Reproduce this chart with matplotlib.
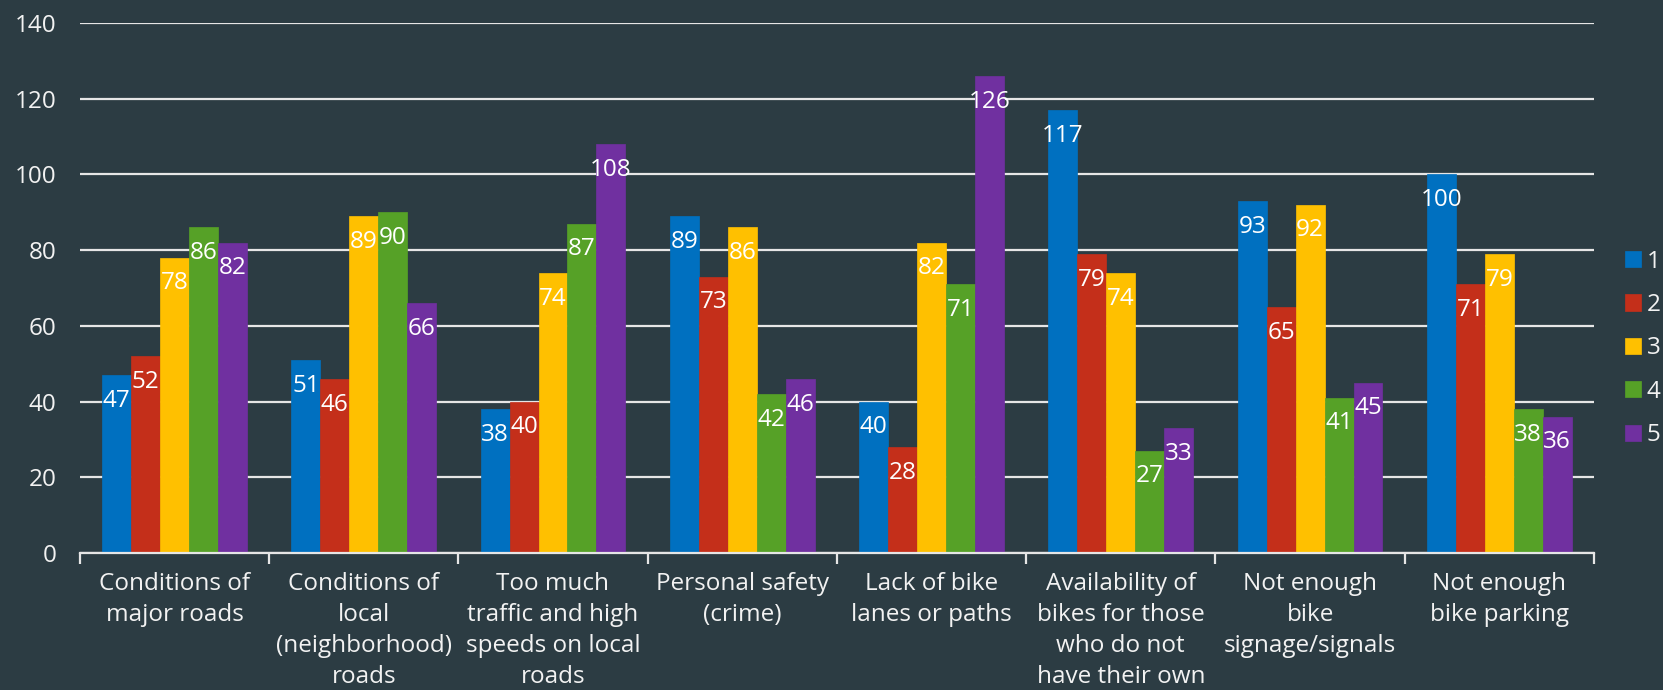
import matplotlib
matplotlib.use("Agg")
import matplotlib.pyplot as plt
import numpy as np

categories = [
    "Conditions of\nmajor roads",
    "Conditions of\nlocal\n(neighborhood)\nroads",
    "Too much\ntraffic and high\nspeeds on local\nroads",
    "Personal safety\n(crime)",
    "Lack of bike\nlanes or paths",
    "Availability of\nbikes for those\nwho do not\nhave their own",
    "Not enough\nbike\nsignage/signals",
    "Not enough\nbike parking",
]
series_names = ["1", "2", "3", "4", "5"]
s1 = [47, 51, 38, 89, 40, 117, 93, 100]
s2 = [52, 46, 40, 73, 28, 79, 65, 71]
s3 = [78, 89, 74, 86, 82, 74, 92, 79]
s4 = [86, 90, 87, 42, 71, 27, 41, 38]
s5 = [82, 66, 108, 46, 126, 33, 45, 36]
series = [s1, s2, s3, s4, s5]
colors = ["#0070C0", "#C42F1A", "#FFC000", "#56A127", "#7030A0"]
y_ticks = [0, 20, 40, 60, 80, 100, 120, 140]

bg = "#2C3C43"
fg = "#F2F2F2"
fs = 17.5
plt.rcParams["font.family"] = ["Open Sans", "DejaVu Sans"]

fig = plt.figure(figsize=(16.63, 6.90), dpi=100, facecolor=bg)
ax = fig.add_axes([0.048, 0.1986, 0.9105, 0.768])
ax.set_facecolor(bg)

x = np.arange(len(categories))
width = 0.153
for i, (vals, c, name) in enumerate(zip(series, colors, series_names)):
    offs = (i - 2) * width
    bars = ax.bar(x + offs, vals, width, color=c, label=name, zorder=3,
                  edgecolor=c, linewidth=0.5)
    for b, v in zip(bars, vals):
        ax.annotate(str(v), (b.get_x() + b.get_width() / 2, v),
                    xytext=(0, -18.5), textcoords="offset points",
                    ha="center", va="center", color="white", fontsize=fs,
                    zorder=4)

ax.set_ylim(0, 140)
ax.set_xlim(-0.5, len(categories) - 0.5)
ax.set_yticks(y_ticks)
ax.tick_params(axis="y", length=0, pad=17, labelcolor=fg, labelsize=fs)
ax.yaxis.grid(True, color="#E6E6E6", linewidth=1.6, zorder=1)
ax.set_axisbelow(True)

ax.set_xticks(x)
ax.set_xticklabels(categories, fontsize=fs, color=fg, linespacing=1.38)
ax.tick_params(axis="x", which="major", length=0, pad=14)
ax.set_xticks(np.arange(-0.5, len(categories)), minor=True)
ax.tick_params(axis="x", which="minor", length=8, width=1.6, color="#E6E6E6",
               direction="out")

for side in ["top", "right", "left"]:
    ax.spines[side].set_visible(False)
ax.spines["bottom"].set_color("#E6E6E6")
ax.spines["bottom"].set_linewidth(1.6)
ax.spines["bottom"].set_zorder(5)

leg = fig.legend(loc="center left", bbox_to_anchor=(0.977, 0.495), frameon=False,
                 fontsize=fs, handlelength=0.65, handleheight=0.65,
                 handletextpad=0.25, labelspacing=0.8, borderaxespad=0,
                 borderpad=0)
for t in leg.get_texts():
    t.set_color(fg)

fig.savefig("out.png", dpi=100, facecolor=bg)
